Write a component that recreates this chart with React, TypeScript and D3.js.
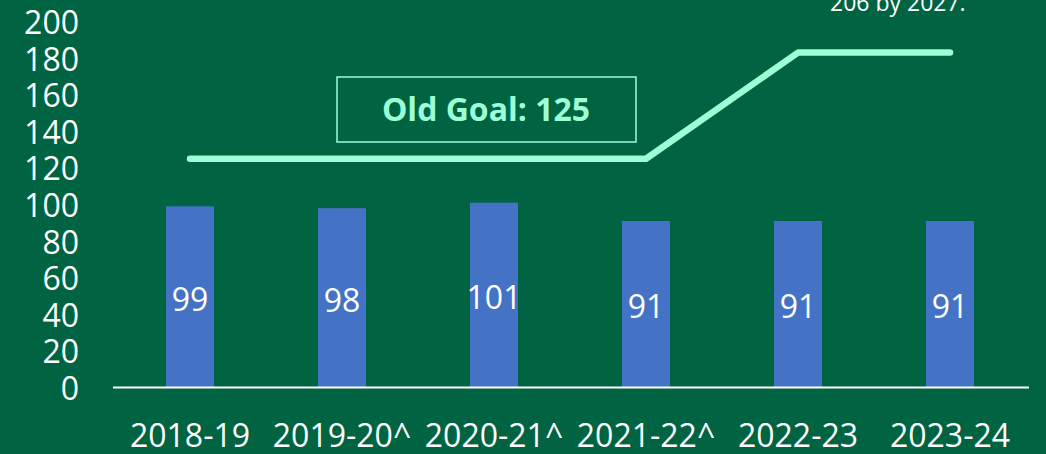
import React from "react";
import * as d3 from "d3";

const categories = ["2018-19", "2019-20^", "2020-21^", "2021-22^", "2022-23", "2023-24"];
const actuals = [99, 98, 101, 91, 91, 91];
const goals = [125, 125, 125, 125, 183, 183];
const yTicks = [0, 20, 40, 60, 80, 100, 120, 140, 160, 180, 200];
const oldGoalLabel = "Old Goal: 125";
const noteText = "206 by 2027.";

const W = 1046;
const H = 454;
const BG = "#006341";
const BAR = "#4472C4";
const MINT = "#9CFFD6";
const FONT = "'Open Sans', 'Liberation Sans', sans-serif";

export default function App() {
  const x = d3
    .scaleBand<string>()
    .domain(categories)
    .range([114, 1026])
    .paddingInner(0.684)
    .paddingOuter(0.342);
  const y = d3.scaleLinear().domain([0, 200]).range([387.5, 21.5]);
  const cx = (c: string) => (x(c) as number) + x.bandwidth() / 2;

  const line = d3
    .line<number>()
    .x((_, i) => cx(categories[i]))
    .y((d) => y(d))
    .curve(d3.curveLinear);

  return (
    <svg
      width={W}
      height={H}
      style={{ position: "absolute", left: 0, top: 0, display: "block" }}
      fontFamily={FONT}
    >
      <rect x={0} y={0} width={W} height={H} fill={BG} />

      {/* note text at top right (cut off) */}
      <text x={830} y={11} fill="#ffffff" fontSize={23}>
        {noteText}
      </text>

      {/* y tick labels */}
      {yTicks.map((t) => (
        <text key={t} x={79} y={y(t) + 12.5} fill="#ffffff" fontSize={32} textAnchor="end">
          {t}
        </text>
      ))}

      {/* bars */}
      {actuals.map((v, i) => (
        <rect
          key={categories[i]}
          x={x(categories[i])}
          y={y(v)}
          width={x.bandwidth()}
          height={y(0) - y(v)}
          fill={BAR}
        />
      ))}

      {/* data labels */}
      {actuals.map((v, i) => (
        <text
          key={"l" + i}
          x={cx(categories[i])}
          y={(y(v) + y(0)) / 2 + 14}
          fill="#ffffff"
          fontSize={32}
          textAnchor="middle"
        >
          {v}
        </text>
      ))}

      {/* axis line */}
      <line x1={113} x2={1029} y1={y(0)} y2={y(0)} stroke="#ffffff" strokeWidth={2} />

      {/* category labels */}
      {categories.map((c) => (
        <text key={c} x={cx(c)} y={447} fill="#ffffff" fontSize={32} textAnchor="middle">
          {c}
        </text>
      ))}

      {/* goal line */}
      <path
        d={line(goals) || ""}
        fill="none"
        stroke={MINT}
        strokeWidth={6.5}
        strokeLinecap="round"
        strokeLinejoin="round"
      />

      {/* old goal box */}
      <rect x={337} y={77} width={299} height={65} fill="none" stroke={MINT} strokeWidth={1.5} />
      <text x={486} y={121} fill={MINT} fontSize={32} fontWeight="bold" textAnchor="middle">
        {oldGoalLabel}
      </text>
    </svg>
  );
}
